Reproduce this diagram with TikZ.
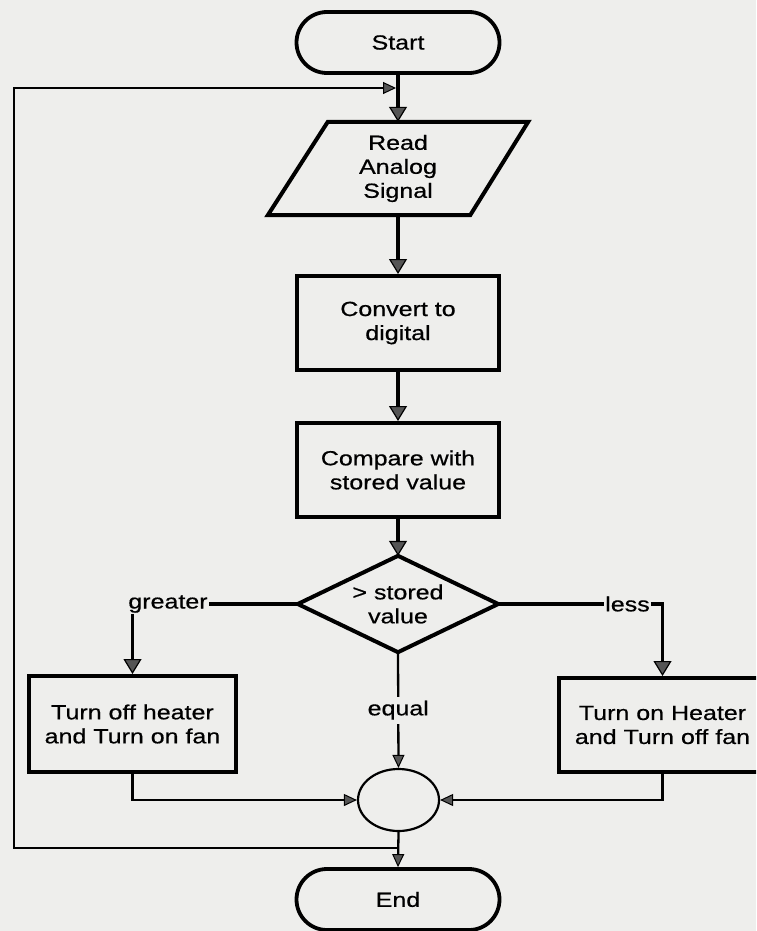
\documentclass[tikz,border=0pt]{standalone}
\usepackage{fontspec}
\setmainfont{Liberation Sans}[FakeStretch=1.22, FakeBold=0.6]
\usetikzlibrary{arrows.meta,shapes.geometric,shapes.misc}
\definecolor{bg}{RGB}{238,238,236}
\definecolor{tipgray}{RGB}{85,85,85}
\tikzset{
  every node/.style={font=\fontsize{20.5}{24}\selectfont, text=black},
  boxnode/.style={draw, line width=4pt, minimum width=202pt, minimum height=94pt, inner sep=0pt, align=center},
  term/.style={draw, line width=3.8pt, rounded rectangle, minimum width=203pt, minimum height=61pt, inner sep=0pt},
  framenode/.style={inner sep=0pt, align=center},
  shapeline/.style={line width=4pt, line join=miter},
  bigarrow/.style={line width=3.4pt, -{Triangle[width=18pt,length=15pt,fill=tipgray,line width=1.2pt]}},
  smallarrow/.style={line width=2.3pt, -{Triangle[width=12pt,length=13pt,fill=tipgray,line width=1pt]}},
  plainline/.style={line width=3.4pt},
  lbl/.style={inner sep=1pt}
}
\begin{document}
\begin{tikzpicture}[x=1pt,y=-1pt]
\useasboundingbox (0,0) rectangle (756,931);
\clip (0,0) rectangle (756,931);
\fill[bg] (0,0) rectangle (756,931);

% nodes
\node[term] (start) at (398,42.5) {Start};
\node[framenode, minimum width=260pt, minimum height=93pt] (read) at (398,168.5) {Read\\Analog\\Signal};
\draw[shapeline] ([xshift=60pt]read.north west) -- (read.north east) -- ([xshift=-58pt]read.south east) -- (read.south west) -- cycle;
\node[boxnode] (convert) at (398,323) {Convert to\\digital};
\node[boxnode] (compare) at (398,470) {Compare with\\stored value};
\node[framenode, minimum width=200pt, minimum height=96pt] (dec) at (398,604) {> stored\\value};
\draw[shapeline] (dec.north) -- (dec.east) -- (dec.south) -- (dec.west) -- cycle;
\node[boxnode, minimum width=207pt, minimum height=96pt] (lbox) at (132.5,724) {Turn off heater\\and Turn on fan};
\node[boxnode, minimum width=207pt, minimum height=94pt] (rbox) at (662.5,725) {Turn on Heater\\and Turn off fan};
\node[draw, ellipse, line width=2.2pt, minimum width=81pt, minimum height=62pt, inner sep=0pt] (merge) at (398.5,800) {};
\node[term] (end) at (398,899.5) {End};
\node[lbl] (greater) at (168,604) {greater};
\node[lbl] (less) at (627.5,604) {less};

% connectors
\draw[bigarrow] (start.south) -- (read.north);
\draw[bigarrow] (read.south) -- (convert.north);
\draw[bigarrow] (convert.south) -- (compare.north);
\draw[bigarrow] (compare.south) -- (dec.north);
\draw[plainline] (dec.west) -- (greater.east);
\draw[bigarrow] (greater.south -| lbox.north) -- (lbox.north);
\draw[plainline] (dec.east) -- (less.west);
\draw[bigarrow] (less.east) -| (rbox.north);
\draw[smallarrow] (dec.south) -- node[lbl, fill=bg, inner sep=4pt] (eq) {equal} (merge.north);
\draw[smallarrow] (lbox.south) |- (merge.west);
\draw[smallarrow] (rbox.south) |- (merge.east);
\draw[smallarrow] (merge.south) -- (end.north);

% loop back
\coordinate (j1) at (398.5,848);
\coordinate (c1) at (14,848);
\coordinate (c2) at (14,88);
\coordinate (j2) at (396,88);
\draw[smallarrow, line join=miter] (j1) -- (c1) -- (c2) -- (j2);
\end{tikzpicture}
\end{document}
